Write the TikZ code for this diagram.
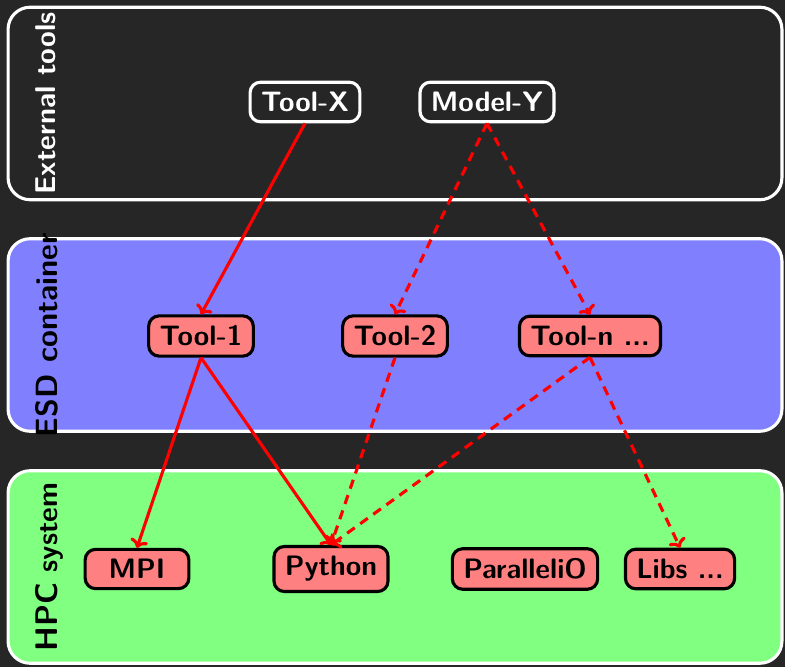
\documentclass[tikz,border=0pt]{standalone}
\usetikzlibrary{arrows.meta}

\definecolor{bgdark}{HTML}{262626}
\definecolor{esdblue}{HTML}{8080FF}
\definecolor{hpcgreen}{HTML}{80FF80}
\definecolor{toolred}{HTML}{FF8080}

\tikzset{
  layer/.style = {draw=white, line width=1.2pt, rounded corners=8.5pt,
                  minimum width=10.45cm, minimum height=2.6cm, inner sep=0pt},
  layerlbl/.style = {rotate=90, anchor=north, inner sep=0pt,
                     font=\fontsize{11}{13}\selectfont\sffamily\bfseries},
  tool/.style = {draw=black, fill=toolred, line width=1.2pt, rounded corners=4pt,
                 minimum width=1.4cm, inner xsep=4.2pt, inner ysep=3.8pt,
                 font=\fontsize{10.8}{13}\selectfont\sffamily\bfseries},
  ext/.style = {tool, draw=white, fill=bgdark, text=white},
  link/.style = {red, line width=1.2pt, -{To[length=3.2pt, width=7pt]}},
  maybe/.style = {link, dash pattern=on 3.6pt off 2.6pt}
}

\begin{document}
\begin{tikzpicture}[x=0.0135cm, y=-0.0135cm]
	\fill[bgdark] (0,0) rectangle (785,667);
	\useasboundingbox (0,0) rectangle (785,667);

	% Layers
	\node[layer, fill=bgdark]    (outside) at (395,103.5) {};
	\node[layer, fill=esdblue]   (esd)     at (395,335) {};
	\node[layer, fill=hpcgreen]  (hpc)     at (395,567) {};

	\node[layerlbl, text=white] (outsidelbl) at (35,103.5) {External tools};
	\node[layerlbl, text=black, font=\fontsize{11.8}{13}\selectfont\sffamily\bfseries] (esdlbl) at (35,335) {ESD container};
	\node[layerlbl, text=black] (hpclbl)     at (35,567)   {{\fontsize{12}{13}\selectfont HPC} system};

	% External tools
	\node[ext] (toolx)  at (305,102) {Tool-X};
	\node[ext] (modely) at (487,102) {Model-Y};

	% Container tools
	\node[tool] (tool1) at (201,336) {Tool-1};
	\node[tool] (tool2) at (395,336) {Tool-2};
	\node[tool] (tooln) at (590,336) {Tool-n ...};

	% HPC software
	\node[tool] (mpi)    at (137,569) {MPI};
	\node[tool] (python) at (331,569) {Python};
	\node[tool] (pio)    at (525,569) {ParalleliO};
	\node[tool] (libs)   at (680,569) {Libs ...};

	% Dependencies
	\draw[link]  (toolx.south)  -- (tool1.north);
	\draw[maybe] (modely.south) -- (tool2.north);
	\draw[maybe] (modely.south) -- (tooln.north);
	\draw[link]  (tool1.south)  -- (mpi.north);
	\draw[link]  (tool1.south)  -- (python.north);
	\draw[maybe] (tool2.south)  -- (python.north);
	\draw[maybe] (tooln.south)  -- (python.north);
	\draw[maybe] (tooln.south)  -- (libs.north);
\end{tikzpicture}
\end{document}
